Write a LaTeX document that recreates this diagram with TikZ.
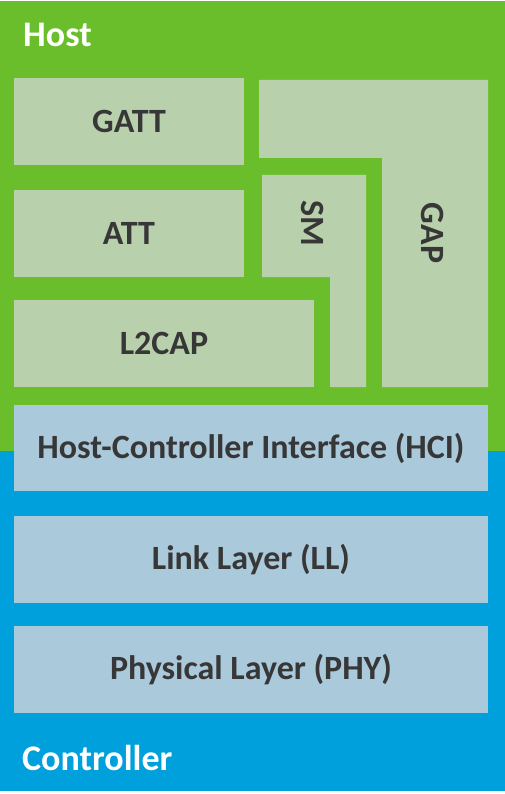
\documentclass[tikz,border=0pt]{standalone}
\usepackage{fontspec}
\setmainfont{Carlito}
\usepackage{tikz}

\definecolor{hostgreen}{RGB}{107,190,43}
\definecolor{hostbox}{RGB}{184,208,172}
\definecolor{ctrlblue}{RGB}{0,160,220}
\definecolor{ctrlbox}{RGB}{170,201,219}
\definecolor{labeltext}{RGB}{55,55,55}

\begin{document}
\begin{tikzpicture}[
    x=1pt, y=-1pt,
    layer/.style={rectangle, inner sep=0pt, minimum height=87pt, text=labeltext,
      font=\fontsize{34}{34}\selectfont\bfseries},
    hostlayer/.style={layer, fill=hostbox},
    ctrllayer/.style={layer, fill=ctrlbox, minimum width=474pt},
    title/.style={anchor=base west, inner sep=0pt, text=white,
      font=\fontsize{36}{36}\selectfont\bfseries}
  ]
  \useasboundingbox (0,0) rectangle (505,794);
  % Backgrounds
  \fill[hostgreen] (0,1) rectangle (505,451);
  \fill[ctrlblue] (0,451) rectangle (505,791);
  \node[title] (host) at (23,47) {Host};
  \node[title] (ctrl) at (22,770) {Controller};

  % Host layers
  \node[hostlayer, minimum width=230pt] (gatt) at (129,121.5) {GATT};
  \node[hostlayer, minimum width=230pt] (att) at (129,233.5) {ATT};
  \node[hostlayer, minimum width=300pt] (l2cap) at (164,343.5) {L2CAP};
  \fill[hostbox] (259,80) -- (488,80) -- (488,387) -- (382,387)
    -- (382,158) -- (259,158) -- cycle;
  \fill[hostbox] (262,175) -- (366,175) -- (366,387) -- (330,387)
    -- (330,277) -- (262,277) -- cycle;
  \node[layer, rotate=-90] (sm) at (313,223) {SM};
  \node[layer, rotate=-90] (gap) at (433,233) {GAP};

  % Controller layers
  \node[ctrllayer, minimum height=86pt] (hci) at (251,448) {Host-Controller Interface (HCI)};
  \node[ctrllayer] (ll) at (251,559.5) {Link Layer (LL)};
  \node[ctrllayer] (phy) at (251,669.5) {Physical Layer (PHY)};
\end{tikzpicture}
\end{document}
